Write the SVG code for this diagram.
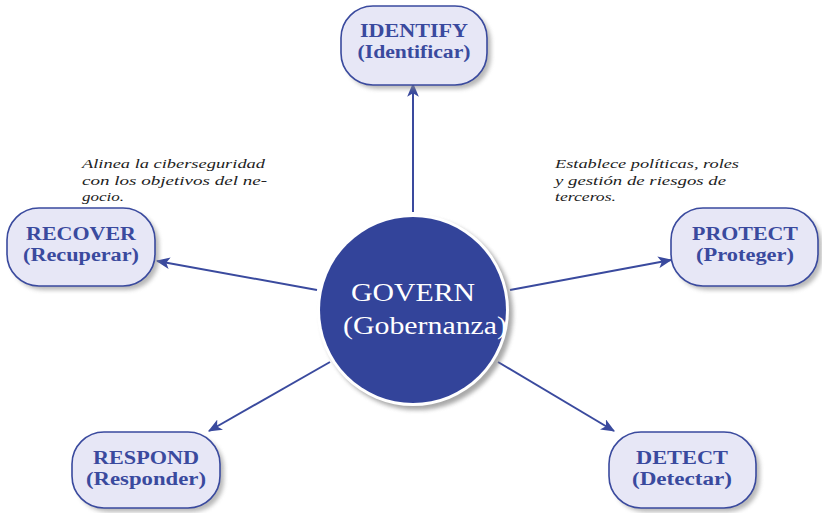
<svg xmlns="http://www.w3.org/2000/svg" width="822" height="513" viewBox="0 0 822 513">
<style>
.node rect.box{fill:#e7e7f6;stroke:#3a4a9e;stroke-width:1.6}
.node rect.sh{fill:#8a8a8a;opacity:0.6}
.lbl{font-family:"Liberation Serif","DejaVu Serif",serif;font-weight:bold;font-size:18px;fill:#3a4a9e;text-anchor:middle}
.note{font-family:"Liberation Serif","DejaVu Serif",serif;font-style:italic;font-size:12.5px;fill:#222}
.conn line{stroke:#3a4a9e;stroke-width:2;marker-end:url(#ah)}
.gov{font-family:"Liberation Serif","DejaVu Serif",serif;font-size:25px;fill:#ffffff}
</style>
<defs>
<filter id="blur" x="-20%" y="-20%" width="140%" height="140%"><feGaussianBlur stdDeviation="2"/></filter>
<marker id="ah" viewBox="0 0 12 10" refX="11" refY="5" markerWidth="7" markerHeight="6" orient="auto" markerUnits="strokeWidth"><path d="M0,0 L12,5 L0,10 L3,5 Z" fill="#3a4a9e"/></marker>
</defs>
<rect width="822" height="513" fill="#ffffff"/>

<g class="conn">
<line x1="413" y1="212" x2="413" y2="84"/>
<line x1="317" y1="290" x2="157" y2="261"/>
<line x1="510" y1="290" x2="671" y2="260"/>
<line x1="330" y1="362" x2="209" y2="431"/>
<line x1="498" y1="362" x2="614" y2="431"/>
</g>

<g id="govern">
<circle cx="417" cy="314" r="96" fill="#7a7a7a" opacity="0.65" filter="url(#blur)"/>
<circle cx="413" cy="310" r="96" fill="#ffffff"/>
<circle cx="413" cy="310" r="93" fill="#33449a"/>
<text class="gov" x="351" y="301" textLength="124" lengthAdjust="spacingAndGlyphs">GOVERN</text>
<text class="gov" x="343" y="334" textLength="164" lengthAdjust="spacingAndGlyphs">(Gobernanza)</text>
</g>

<g id="identify" class="node">
<rect class="sh" x="345" y="10" width="146" height="79" rx="32" filter="url(#blur)"/>
<rect class="box" x="341" y="6" width="146" height="79" rx="32"/>
<text class="lbl" x="414" y="37" textLength="108" lengthAdjust="spacingAndGlyphs">IDENTIFY</text>
<text class="lbl" x="414" y="58" textLength="113" lengthAdjust="spacingAndGlyphs">(Identificar)</text>
</g>

<g id="recover" class="node">
<rect class="sh" x="11" y="212" width="148" height="78" rx="32" filter="url(#blur)"/>
<rect class="box" x="7" y="208" width="148" height="78" rx="32"/>
<text class="lbl" x="81" y="240" textLength="110" lengthAdjust="spacingAndGlyphs">RECOVER</text>
<text class="lbl" x="81" y="261" textLength="116" lengthAdjust="spacingAndGlyphs">(Recuperar)</text>
</g>

<g id="protect" class="node">
<rect class="sh" x="675" y="212" width="147" height="78" rx="32" filter="url(#blur)"/>
<rect class="box" x="671" y="208" width="147" height="78" rx="32"/>
<text class="lbl" x="745" y="240" textLength="106" lengthAdjust="spacingAndGlyphs">PROTECT</text>
<text class="lbl" x="745" y="261" textLength="98" lengthAdjust="spacingAndGlyphs">(Proteger)</text>
</g>

<g id="respond" class="node">
<rect class="sh" x="76" y="436" width="148" height="76" rx="32" filter="url(#blur)"/>
<rect class="box" x="72" y="432" width="148" height="76" rx="32"/>
<text class="lbl" x="146" y="464" textLength="106" lengthAdjust="spacingAndGlyphs">RESPOND</text>
<text class="lbl" x="146" y="485" textLength="120" lengthAdjust="spacingAndGlyphs">(Responder)</text>
</g>

<g id="detect" class="node">
<rect class="sh" x="613" y="436" width="147" height="76" rx="32" filter="url(#blur)"/>
<rect class="box" x="609" y="432" width="147" height="76" rx="32"/>
<text class="lbl" x="682" y="464" textLength="92" lengthAdjust="spacingAndGlyphs">DETECT</text>
<text class="lbl" x="682" y="485" textLength="100" lengthAdjust="spacingAndGlyphs">(Detectar)</text>
</g>

<g id="note-left">
<text class="note" x="82" y="168" textLength="183" lengthAdjust="spacingAndGlyphs">Alinea la ciberseguridad</text>
<text class="note" x="82" y="185" textLength="185" lengthAdjust="spacingAndGlyphs">con los objetivos del ne-</text>
<text class="note" x="82" y="201" textLength="42" lengthAdjust="spacingAndGlyphs">gocio.</text>
</g>
<g id="note-right">
<text class="note" x="555" y="168" textLength="184" lengthAdjust="spacingAndGlyphs">Establece políticas, roles</text>
<text class="note" x="555" y="185" textLength="171" lengthAdjust="spacingAndGlyphs">y gestión de riesgos de</text>
<text class="note" x="555" y="201" textLength="61" lengthAdjust="spacingAndGlyphs">terceros.</text>
</g>
</svg>
